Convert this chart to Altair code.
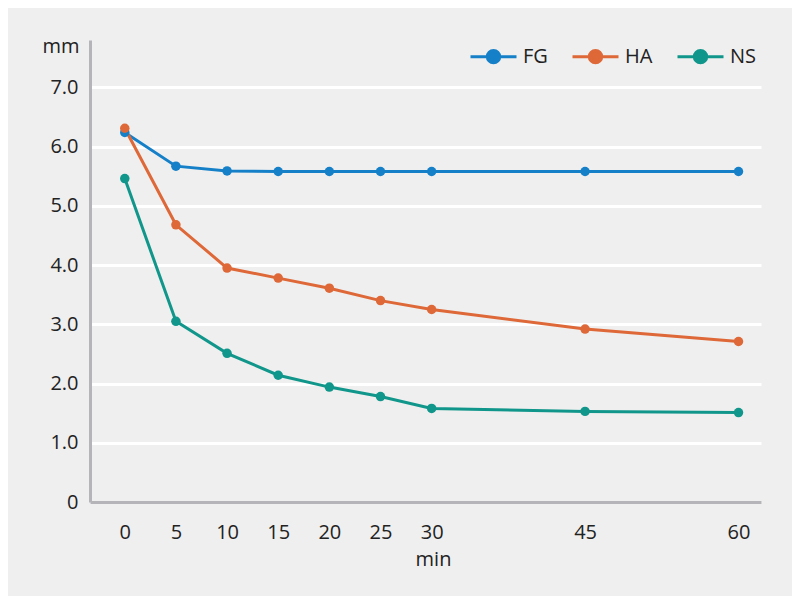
import altair as alt
import pandas as pd

minutes = [0, 5, 10, 15, 20, 25, 30, 45, 60]
fg = [6.24, 5.67, 5.59, 5.58, 5.58, 5.58, 5.58, 5.58, 5.58]
ha = [6.31, 4.68, 3.95, 3.78, 3.61, 3.40, 3.25, 2.92, 2.71]
ns = [5.46, 3.05, 2.51, 2.14, 1.94, 1.78, 1.58, 1.53, 1.51]
groups = ["FG", "HA", "NS"]
colors = ["#1580c8", "#de6837", "#10968a"]
y_ticks = [0, 1, 2, 3, 4, 5, 6, 7]

rows = []
for g, vals in zip(groups, [fg, ha, ns]):
    for m, v in zip(minutes, vals):
        rows.append({"min": m, "mm": v, "group": g, "order": groups.index(g)})
df = pd.DataFrame(rows)

FONT = "Open Sans"
TXT = "#222222"

legend_path = ("M-1,0L1,0M-0.27,0A0.27,0.27,0,1,1,0.27,0"
               "A0.27,0.27,0,1,1,-0.27,0Z")

color = alt.Color(
    "group:N",
    scale=alt.Scale(domain=groups, range=colors),
    legend=alt.Legend(
        title=None,
        orient="none",
        direction="horizontal",
        legendX=379,
        legendY=-8,
        symbolType=legend_path,
        symbolSize=2116,
        symbolStrokeWidth=3,
        labelOffset=5,
        columnPadding=18,
        labelFont=FONT,
        labelFontSize=20,
        labelColor=TXT,
        labelBaseline="middle",
    ),
)

x = alt.X(
    "min:Q",
    scale=alt.Scale(domain=[-3.4, 62.2], nice=False, zero=False),
    axis=alt.Axis(
        values=minutes,
        title="min",
        titleX=343,
        titleY=63,
        titleAlign="center",
        titleBaseline="alphabetic",
        labelPadding=20,
        grid=False,
        ticks=False,
    ),
)
y = alt.Y(
    "mm:Q",
    scale=alt.Scale(domain=[0, 7.8], nice=False),
    axis=alt.Axis(
        values=y_ticks,
        labelExpr="datum.value == 0 ? '0' : format(datum.value, '.1f')",
        title="mm",
        titleAngle=0,
        titleX=-11,
        titleY=12,
        titleAlign="right",
        titleBaseline="alphabetic",
        labelPadding=12,
        grid=True,
        ticks=False,
    ),
)

base = alt.Chart(df).encode(x=x, y=y, color=color, order="order:Q")
lines = base.mark_line(strokeWidth=3)
points = base.mark_circle(size=90, opacity=1)

chart = alt.layer(lines, points).properties(
    width=671,
    height=462,
    autosize=alt.AutoSizeParams(type="none"),
    padding={"left": 82, "top": 32, "right": 31, "bottom": 94},
    background="#efefef",
).configure_view(stroke=None).configure_axis(
    domainColor="#b5b5b9",
    domainWidth=3,
    gridColor="#ffffff",
    gridWidth=3,
    labelFont=FONT,
    labelFontSize=20,
    labelColor=TXT,
    titleFont=FONT,
    titleFontSize=20,
    titleFontWeight="normal",
    titleColor=TXT,
)

chart.save("out.html", embed_options={"renderer": "svg", "actions": False})
